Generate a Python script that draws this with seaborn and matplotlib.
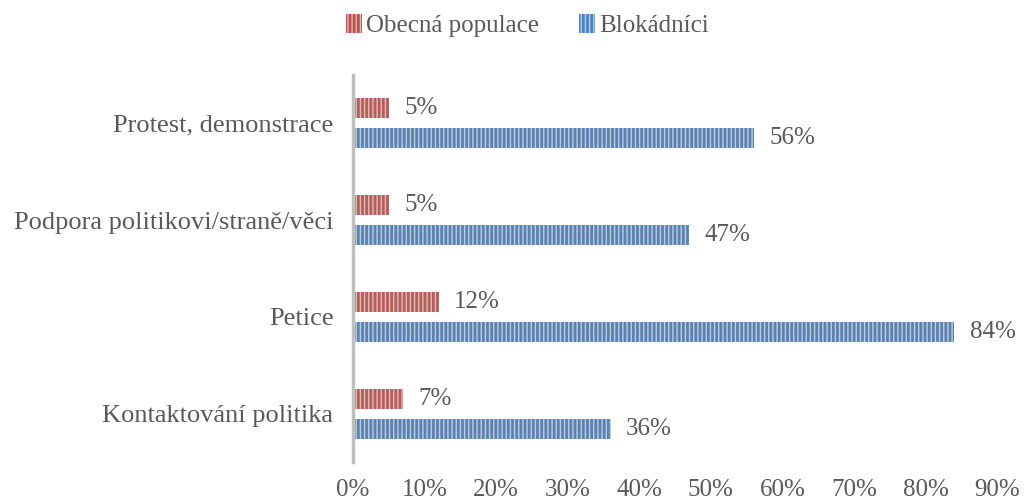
import pandas as pd
import matplotlib.pyplot as plt
import seaborn as sns

# data
categories = ['Protest, demonstrace', 'Podpora politikovi/straně/věci', 'Petice', 'Kontaktování politika']
obecna = [5, 5, 12, 7]
blokadnici = [56, 47, 84, 36]
series_names = ['Obecná populace', 'Blokádníci']
x_ticks = [0, 10, 20, 30, 40, 50, 60, 70, 80, 90]

colors = {'Obecná populace': '#C0504D', 'Blokádníci': '#4F81BD'}
stripe = {'Obecná populace': '#E6B9B8', 'Blokádníci': '#B9CDE5'}
text_col = '#595959'

df = pd.DataFrame({
    'kategorie': categories * 2,
    'serie': [series_names[0]] * 4 + [series_names[1]] * 4,
    'hodnota': obecna + blokadnici,
})

sns.set_theme(style="white")
plt.rcParams['font.family'] = ['Liberation Serif', 'DejaVu Serif']
plt.rcParams['hatch.linewidth'] = 1.0
fs = 18

fig = plt.figure(figsize=(10.26, 5.03), dpi=100)
ax = fig.add_axes([0.344, 0.0815, 0.628, 0.7695])

sns.barplot(data=df, y='kategorie', x='hodnota', hue='serie', order=categories,
            hue_order=series_names, palette=colors, orient='h', width=0.62, gap=0.333,
            ax=ax, legend=False)

for cont, name in zip(ax.containers, series_names):
    for bar in cont:
        bar.set_hatch('||||')
        bar.set_edgecolor(stripe[name])
        bar.set_linewidth(0)
    ax.bar_label(cont, labels=[f'{int(v)}%' for v in cont.datavalues], padding=11,
                 fontsize=fs, color=text_col)

ax.set_xlim(0, 90)
ax.set_xticks(x_ticks)
ax.set_xticklabels([f'{t}%' for t in x_ticks], fontsize=fs, color=text_col)
ax.tick_params(axis='x', length=0, pad=12)
ax.tick_params(axis='y', length=0, pad=14, labelsize=19, labelcolor=text_col)
ax.set_xlabel('')
ax.set_ylabel('')
for s in ['top', 'right', 'bottom']:
    ax.spines[s].set_visible(False)
ax.spines['left'].set_color('#BFBFBF')
ax.spines['left'].set_linewidth(2.5)
ax.grid(False)

handles = []
for name in series_names:
    h = plt.Rectangle((0, 0), 1, 1, facecolor=colors[name], edgecolor=stripe[name],
                      hatch='||||', linewidth=0)
    handles.append(h)
fig.legend(handles, series_names, loc='center', bbox_to_anchor=(0.514, 0.95), ncol=2,
           frameon=False, fontsize=fs, labelcolor=text_col, handlelength=0.65,
           handleheight=0.8, handletextpad=0.15, columnspacing=1.6)

fig.savefig('out.png', dpi=100)
